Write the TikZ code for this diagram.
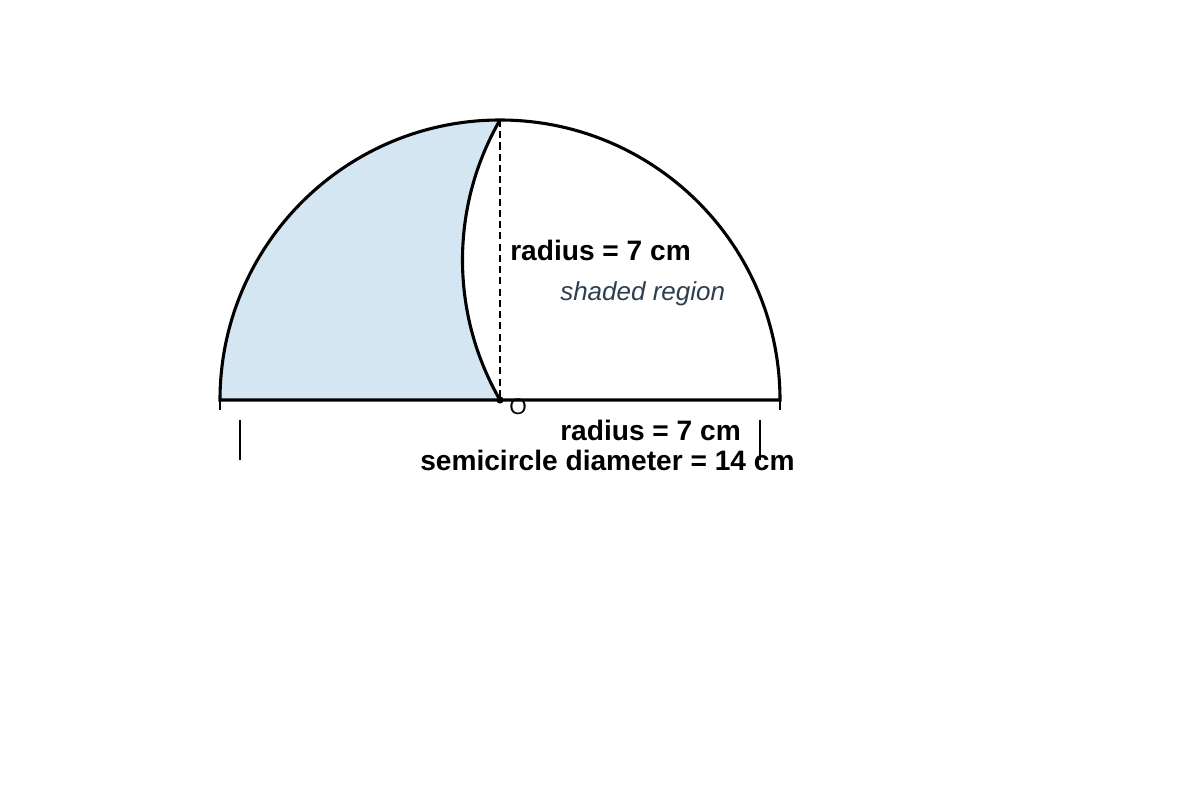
\documentclass[tikz,border=0pt]{standalone}
\usepackage{fontspec}
\setmainfont{Liberation Sans}
\usepackage{xcolor}
\definecolor{shadefill}{RGB}{212,230,241}
\definecolor{notegray}{RGB}{44,62,80}

\begin{document}
\begin{tikzpicture}[x=1cm,y=1cm]
\useasboundingbox (-12.5,-10) rectangle (17.5,10);
\coordinate (O) at (0,0);
\coordinate (A) at (-7,0);
\coordinate (B) at (7,0);
\coordinate (T) at (0,7);
\fill[shadefill] (A) arc (180:90:7) arc (150:210:7) -- cycle;
\draw[line width=1.4pt,dashed,dash pattern=on 5pt off 3pt] (T) -- (O);
\draw[line width=2.2pt] (T) arc (150:210:7);
\draw[line width=2.2pt] (A) arc (180:0:7) -- cycle;
\draw[line width=0.8pt] (A) -- ++(0,-0.25);
\draw[line width=0.8pt] (B) -- ++(0,-0.25);
\draw[line width=0.8pt] (-6.5,-0.5) -- (-6.5,-1.5);
\draw[line width=0.8pt] (6.5,-0.5) -- (6.5,-1.5);
\fill (O) circle (0.09);
\node[font=\fontsize{16}{18}\selectfont] (olabel) at (0.45,-0.18) {O};
\node[anchor=west,inner sep=0pt,font=\fontsize{20}{24}\selectfont\bfseries] (rtop) at (0.25,3.75) {radius = 7 cm};
\node[anchor=west,inner sep=0pt,text=notegray,font=\fontsize{18.5}{22}\selectfont\itshape] (shade) at (1.5,2.65) {shaded region};
\node[anchor=west,inner sep=0pt,font=\fontsize{20}{24}\selectfont\bfseries] (rbot) at (1.5,-0.75) {radius = 7 cm};
\node[anchor=west,inner sep=0pt,font=\fontsize{20}{24}\selectfont\bfseries] (diam) at (-2,-1.5) {semicircle diameter = 14 cm};
\end{tikzpicture}
\end{document}
